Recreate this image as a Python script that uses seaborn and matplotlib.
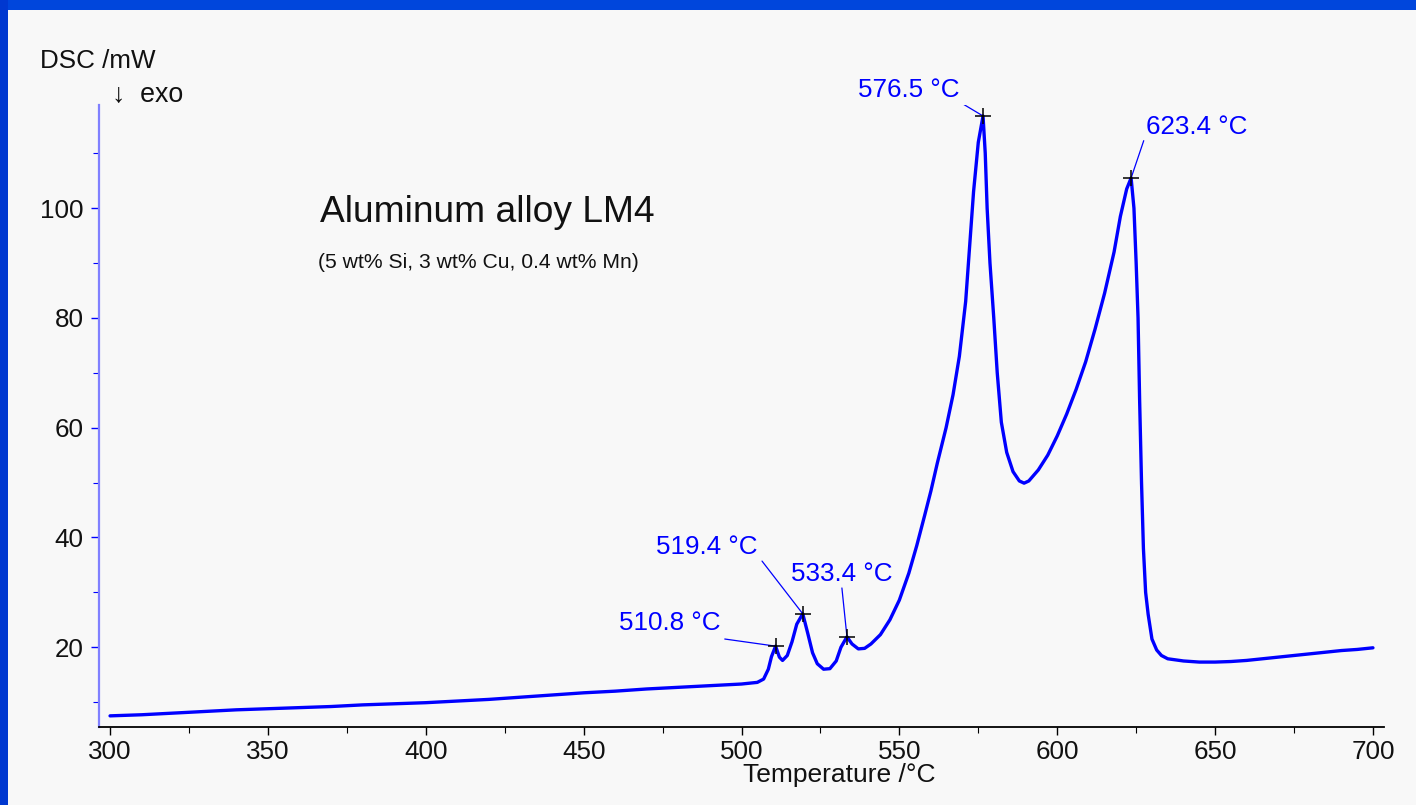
import matplotlib
matplotlib.use("Agg")
import matplotlib.pyplot as plt
import seaborn as sns
import pandas as pd
from matplotlib.patches import Rectangle

# ---------------- data ----------------
temperature = [300, 310, 320, 330, 340, 350, 360, 370, 380, 390, 400, 410, 420, 430, 440,
               450, 460, 470, 480, 490, 500, 505, 507, 508.5, 509.5, 510.8, 512, 513, 514.5,
               516, 517.5, 519.4, 521, 522.5, 524, 526, 528, 530, 531.5, 533.4, 535, 537,
               539, 541, 544, 547, 550, 553, 555.5, 558, 560, 562, 564.8, 567, 569, 571,
               572.5, 573.5, 575, 576.5, 577.2, 577.8, 578.7, 579.9, 581, 582.3, 584, 586,
               588, 589.5, 591, 594, 597, 600, 603, 606, 609, 612, 615, 618, 620, 622,
               623.4, 624.3, 625, 625.6, 626.1, 626.7, 627.3, 628, 628.8, 630, 631.5, 633,
               635, 640, 645, 650, 655, 660, 665, 670, 675, 680, 685, 690, 695, 700]
dsc_mw = [7.5, 7.7, 8.0, 8.3, 8.6, 8.8, 9.0, 9.2, 9.5, 9.7, 9.9, 10.2, 10.5, 10.9, 11.3,
          11.7, 12.0, 12.4, 12.7, 13.0, 13.3, 13.6, 14.2, 16.0, 18.3, 20.2, 18.2, 17.6, 18.5,
          21.0, 24.2, 26.1, 22.5, 19.0, 17.0, 16.0, 16.1, 17.5, 20.0, 21.9, 20.6, 19.7,
          19.8, 20.6, 22.3, 25.0, 28.6, 33.5, 38.5, 44.0, 48.5, 53.5, 60.0, 66.0, 73.0, 83.0,
          95.0, 103.0, 112.0, 116.8, 110.0, 100.0, 90.0, 80.0, 70.0, 61.0, 55.5, 52.0,
          50.3, 49.9, 50.3, 52.3, 55.0, 58.5, 62.5, 67.0, 72.0, 78.0, 84.5, 92.0, 98.5, 103.5,
          105.5, 100.0, 90.0, 80.0, 65.0, 50.0, 38.0, 30.0, 26.0, 21.5, 19.5, 18.5,
          17.9, 17.5, 17.3, 17.3, 17.4, 17.6, 17.9, 18.2, 18.5, 18.8, 19.1, 19.4, 19.6, 19.9]

peak_temps = [576.5, 623.4, 519.4, 533.4, 510.8]
peak_values = [116.8, 105.5, 26.1, 21.9, 20.2]
peak_labels = ["576.5 °C", "623.4 °C", "519.4 °C", "533.4 °C", "510.8 °C"]
# leader-line start and label centre (data coords)
label_anchor_t = [570.1, 627.4, 506.5, 531.8, 494.7]
label_anchor_v = [119.0, 112.3, 35.7, 30.8, 21.5]
label_text_t = [553.0, 644.2, 489.0, 531.6, 477.3]
label_text_v = [121.5, 114.8, 38.3, 33.3, 24.4]

x_ticks = [300, 350, 400, 450, 500, 550, 600, 650, 700]
y_ticks = [20, 40, 60, 80, 100]

title_text = "Aluminum alloy LM4"
subtitle_text = "(5 wt% Si, 3 wt% Cu, 0.4 wt% Mn)"

# ---------------- styling ----------------
sns.set_theme(style="white")
FONT = ["Liberation Sans", "DejaVu Sans"]
plt.rcParams["font.family"] = FONT
BG = "#f8f8f8"

fig = plt.figure(figsize=(14.16, 8.05), dpi=100, facecolor=BG)
ax = fig.add_axes([99 / 1416, 1 - 727 / 805, (1384 - 99) / 1416, (727 - 105) / 805])
ax.set_facecolor(BG)

df = pd.DataFrame({"T": temperature, "DSC": dsc_mw})
sns.lineplot(data=df, x="T", y="DSC", ax=ax, color="#0000ff", linewidth=2.4,
             estimator=None, sort=False)

ax.set_xlim(296.5, 703.5)
ax.set_ylim(5.47, 118.8)

# peak markers
ax.plot(peak_temps, peak_values, linestyle="none", marker="+", color="black",
        markersize=12, markeredgewidth=1.1, zorder=5)

# annotations
for pt, pv, lab, at, av, tt, tv in zip(peak_temps, peak_values, peak_labels,
                                       label_anchor_t, label_anchor_v,
                                       label_text_t, label_text_v):
    ax.plot([at, pt], [av, pv], color="#0000ff", linewidth=0.9, zorder=4)
    ax.text(tt, tv, lab, color="#0000ff", fontsize=18.7, ha="center", va="center",
            family=FONT, clip_on=False)

# spines
for s in ["top", "right"]:
    ax.spines[s].set_visible(False)
ax.spines["left"].set_color("#8080ff")
ax.spines["left"].set_linewidth(1.6)
ax.spines["bottom"].set_color("black")
ax.spines["bottom"].set_linewidth(1.3)

ax.set_xticks(x_ticks)
ax.set_xticklabels([str(t) for t in x_ticks])
ax.set_yticks(y_ticks)
ax.set_yticklabels([str(t) for t in y_ticks])
ax.set_xticks([325 + 50 * i for i in range(8)], minor=True)
ax.set_yticks([10, 30, 50, 70, 90, 110], minor=True)
ax.tick_params(axis="x", which="major", direction="out", length=6, width=1.0,
               color="black", labelsize=18.7, pad=3, bottom=True)
ax.tick_params(axis="x", which="minor", direction="out", length=4, width=0.8,
               color="black", bottom=True)
ax.tick_params(axis="y", which="major", direction="out", length=6, width=1.0,
               color="#0000ff", labelsize=18.7, pad=5, left=True)
ax.tick_params(axis="y", which="minor", direction="out", length=4, width=0.8,
               color="#0000ff", left=True)
for lbl in ax.get_xticklabels() + ax.get_yticklabels():
    lbl.set_color("#111111")
ax.set_xlabel("")
ax.set_ylabel("")
ax.grid(False)

# axis titles
fig.text(839 / 1416, 1 - 775 / 805, "Temperature /°C", fontsize=19, ha="center",
         va="center", color="#111111", family=FONT)
fig.text(40 / 1416, 1 - 61 / 805, "DSC /mW", fontsize=18.7, ha="left", va="center",
         color="#111111", family=FONT)
fig.text(112 / 1416, 1 - 94 / 805, "↓  exo", fontsize=19.3, ha="left", va="center",
         color="#111111", family=FONT)

# chart title texts
fig.text(320 / 1416, 1 - 213 / 805, title_text, fontsize=26.7, ha="left", va="center",
         color="#111111", family=FONT)
fig.text(318 / 1416, 1 - 262 / 805, subtitle_text, fontsize=15.2, ha="left", va="center",
         color="#111111", family=FONT)

# blue slide frame
fig.patches.append(Rectangle((0, 1 - 10 / 805), 1, 10 / 805, transform=fig.transFigure,
                             facecolor="#0046dc", edgecolor="none", zorder=10))
fig.patches.append(Rectangle((0, 0), 8 / 1416, 1, transform=fig.transFigure,
                             facecolor="#0038d0", edgecolor="none", zorder=10))

fig.savefig("out.png", dpi=100, facecolor=BG)
